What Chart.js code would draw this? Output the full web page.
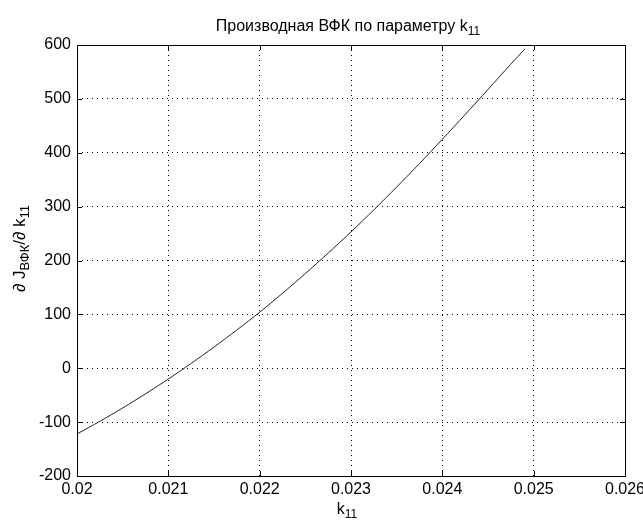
<!DOCTYPE html>
<html>
<head>
<meta charset="utf-8">
<script src="https://cdn.jsdelivr.net/npm/chart.js@4.4.0/dist/chart.umd.min.js"></script>
<style>
  html, body { margin: 0; padding: 0; background: #fff; }
  #wrap { width: 643px; height: 523px; }
</style>
</head>
<body>
<div id="wrap"><canvas id="c" width="643" height="523"></canvas></div>
<script>
// ---- data ----
const k11Values = [0.02, 0.02025, 0.0205, 0.02075, 0.021, 0.02125, 0.0215, 0.02175, 0.022, 0.02225,
                   0.0225, 0.02275, 0.023, 0.02325, 0.0235, 0.02375, 0.024, 0.02425, 0.0245, 0.02475, 0.0249];
const derivValues = [-122, -98.5, -73.7, -47.5, -20, 9, 39.3, 71, 104, 139.2,
                     175.8, 213.8, 253, 294, 336.4, 380, 425, 471, 517.5, 564.5, 592];
const xTicks = [0.02, 0.021, 0.022, 0.023, 0.024, 0.025, 0.026];
const xTickLabels = ['0.02', '0.021', '0.022', '0.023', '0.024', '0.025', '0.026'];
const yTicks = [-200, -100, 0, 100, 200, 300, 400, 500, 600];
const yTickLabels = ['-200', '-100', '0', '100', '200', '300', '400', '500', '600'];
const titleMain = 'Производная ВФК по параметру k';
const titleSub = '11';
const xLabelMain = 'k';
const xLabelSub = '11';

const FONT = "'Liberation Sans', Arial, Helvetica, sans-serif";

const matlabPlugin = {
  id: 'matlab',
  afterDraw(chart) {
    const ctx = chart.ctx;
    const a = chart.chartArea;
    const xs = chart.scales.x, ys = chart.scales.y;
    ctx.save();
    ctx.setLineDash([]);
    ctx.strokeStyle = '#000';
    ctx.lineWidth = 1;
    // tick marks inside on all sides
    const tl = 5;
    ctx.beginPath();
    xTicks.forEach(v => {
      const px = Math.round(xs.getPixelForValue(v)) + 0.5;
      ctx.moveTo(px, a.bottom); ctx.lineTo(px, a.bottom - tl);
      ctx.moveTo(px, a.top); ctx.lineTo(px, a.top + tl);
    });
    yTicks.forEach(v => {
      const py = Math.round(ys.getPixelForValue(v)) + 0.5;
      ctx.moveTo(a.left, py); ctx.lineTo(a.left + tl, py);
      ctx.moveTo(a.right, py); ctx.lineTo(a.right - tl, py);
    });
    ctx.stroke();
    // box
    ctx.strokeRect(Math.round(a.left) + 0.5, Math.round(a.top) + 0.5,
                   Math.round(a.right - a.left), Math.round(a.bottom - a.top));

    ctx.fillStyle = '#000';
    ctx.textBaseline = 'alphabetic';
    const drawSub = (parts, cx, cy, big, small) => {
      let total = 0;
      parts.forEach(p => { ctx.font = (p[1] ? small : big) + 'px ' + FONT; total += ctx.measureText(p[0]).width; });
      let x = cx - total / 2;
      parts.forEach(p => {
        ctx.font = (p[1] ? small : big) + 'px ' + FONT;
        ctx.textAlign = 'left';
        ctx.fillText(p[0], x, cy + (p[1] ? 4 : 0));
        x += ctx.measureText(p[0]).width;
      });
    };
    const cxPlot = (a.left + a.right) / 2;
    drawSub([[titleMain, false], [titleSub, true]], cxPlot - 3, 31, 16, 12);
    drawSub([[xLabelMain, false], [xLabelSub, true]], cxPlot - 4, 514, 16, 12);
    ctx.save();
    ctx.translate(25, (a.top + a.bottom) / 2 - 12);
    ctx.rotate(-Math.PI / 2);
    drawSub([['\u2202 J', false], ['ВФК', true], ['/\u2202 k', false], ['11', true]], 0, 0, 17, 13);
    ctx.restore();
    ctx.restore();
  }
};

new Chart(document.getElementById('c'), {
  type: 'line',
  data: {
    datasets: [{
      data: k11Values.map((x, i) => ({ x: x, y: derivValues[i] })),
      borderColor: '#222',
      borderWidth: 1,
      pointRadius: 0,
      tension: 0.3,
      fill: false
    }]
  },
  options: {
    responsive: false,
    animation: false,
    devicePixelRatio: 1,
    layout: { padding: { top: 45, right: 18, left: 0, bottom: 0 } },
    plugins: { legend: { display: false }, tooltip: { enabled: false }, title: { display: false } },
    scales: {
      x: {
        type: 'linear',
        min: 0.02, max: 0.026,
        afterBuildTicks: s => { s.ticks = xTicks.map(v => ({ value: v })); },
        afterFit: s => { s.height = 47; s.paddingLeft = 0; s.paddingRight = 0; },
        ticks: {
          callback: (v) => xTickLabels[xTicks.findIndex(t => Math.abs(t - v) < 1e-9)],
          color: '#000', font: { family: FONT, size: 16 }, padding: 4, maxRotation: 0, autoSkip: false
        },
        grid: { color: '#000', lineWidth: 1, drawTicks: false },
        border: { display: false, dash: [1, 4] }
      },
      y: {
        type: 'linear',
        min: -200, max: 600,
        afterBuildTicks: s => { s.ticks = yTicks.map(v => ({ value: v })); },
        afterFit: s => { s.width = 77; s.paddingTop = 0; s.paddingBottom = 0; },
        ticks: {
          callback: (v) => yTickLabels[yTicks.indexOf(v)],
          color: '#000', font: { family: FONT, size: 16 }, padding: 6, autoSkip: false
        },
        grid: { color: '#000', lineWidth: 1, drawTicks: false },
        border: { display: false, dash: [1, 4] }
      }
    }
  },
  plugins: [matlabPlugin]
});
</script>
</body>
</html>
